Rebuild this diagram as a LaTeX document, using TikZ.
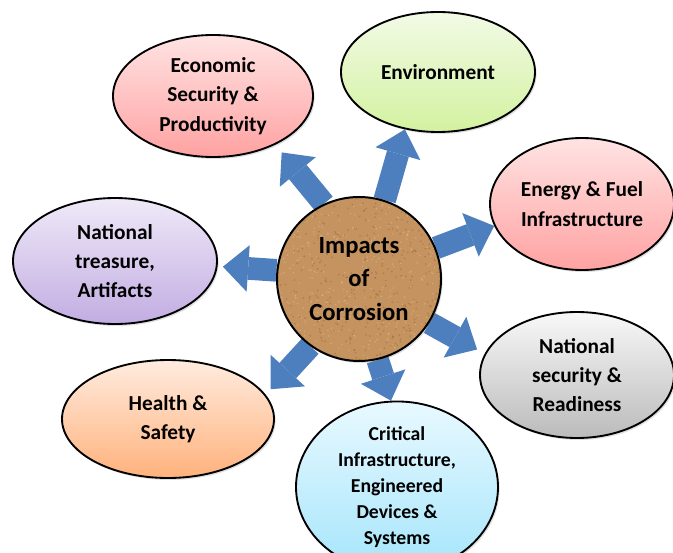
\documentclass[tikz,border=0pt]{standalone}
\usepackage{fontspec}
\setmainfont{Carlito}
\usepackage{xcolor}
\usepackage{tikz}
\usetikzlibrary{shapes.geometric,arrows.meta,calc,backgrounds,shadows}

\definecolor{arrowblue}{HTML}{4D7FBE}
\definecolor{cork}{HTML}{C4935F}
\definecolor{corkdark}{HTML}{84552B}
\definecolor{corklight}{HTML}{E6C497}
\definecolor{pinktop}{HTML}{FFE3E3}
\definecolor{pinkbot}{HTML}{FFA2A2}
\definecolor{greentop}{HTML}{F2FAE6}
\definecolor{greenbot}{HTML}{D3F2A0}
\definecolor{greytop}{HTML}{F8F8F8}
\definecolor{greybot}{HTML}{BBBBBB}
\definecolor{cyantop}{HTML}{E8F9FF}
\definecolor{cyanbot}{HTML}{A5E5FB}
\definecolor{peachtop}{HTML}{FFECDF}
\definecolor{peachbot}{HTML}{FFB17C}
\definecolor{lilactop}{HTML}{EFE9F8}
\definecolor{lilacbot}{HTML}{C2ADE2}

\begin{document}
\begin{tikzpicture}[
    x=0.75pt, y=-0.75pt,
    impact/.style={ellipse, draw=black, line width=1.4pt, inner sep=0pt, align=center, font=\bfseries\fontsize{16}{22}\selectfont, drop shadow={opacity=0.25, shadow xshift=1.2pt, shadow yshift=-1.5pt}},
    hub/.style={circle, draw=black, line width=1.5pt, fill=cork, minimum size=123pt, inner sep=0pt, align=center, font=\bfseries\fontsize{18.5}{25}\selectfont, drop shadow={opacity=0.25, shadow xshift=1.2pt, shadow yshift=-1.5pt},
        path picture={
            \foreach \k in {1,...,450} {
                \fill[corkdark, opacity=0.35] ($(path picture bounding box.center)+(85*rand, 85*rand)$) circle (0.7pt);
                \fill[corklight, opacity=0.5] ($(path picture bounding box.center)+(85*rand, 85*rand)$) circle (0.6pt);
            }
        }},
    flow/.style={-{Triangle[width=35pt, length=19pt, line width=0pt]}, line width=17pt, draw=arrowblue}
]
\pgfmathsetseed{11}
\useasboundingbox (0,0) rectangle (673,552);

\node[hub] (core) at (359,279) {Impacts\\of\\Corrosion};

\node[impact, minimum width=150pt, minimum height=91.5pt, top color=pinktop, bottom color=pinkbot] (econ) at (213,96) {Economic\\Security \&\\Productivity};
\node[impact, minimum width=145.5pt, minimum height=90pt, top color=greentop, bottom color=greenbot] (env) at (438,72) {Environment};
\node[impact, minimum width=138pt, minimum height=99pt, top color=pinktop, bottom color=pinkbot] (energy) at (582,204) {Energy \& Fuel\\Infrastructure};
\node[impact, minimum width=145.5pt, minimum height=94.5pt, top color=greytop, bottom color=greybot] (natsec) at (577,375) {National\\security \&\\Readiness};
\node[impact, minimum width=151.5pt, minimum height=97.5pt, top color=cyantop, bottom color=cyanbot, font=\bfseries\fontsize{14.8}{19.5}\selectfont] (critical) at (397,487) {Critical\\Infrastructure,\\Engineered\\Devices \&\\Systems};
\node[impact, minimum width=159pt, minimum height=88.5pt, top color=peachtop, bottom color=peachbot] (health) at (168,419) {Health \&\\Safety};
\node[impact, minimum width=153pt, minimum height=94.5pt, top color=lilactop, bottom color=lilacbot] (treasure) at (115,261) {National\\treasure,\\Artifacts};

% block arrows sit behind the hub
\begin{scope}[on background layer]
\draw[flow, shorten >=7.5pt] (core.115) -- (econ.-38);
\draw[flow] (core.72) -- (env.-120);
\draw[flow] (core.22) -- (energy.194);
\draw[flow, shorten >=6.5pt] (core.-32) -- (natsec.167);
\draw[flow] (core.-77) -- (critical.94);
\draw[flow, shorten >=5.5pt] (core.-126) -- (health.14);
\draw[flow, shorten >=4pt] (core.174) -- (treasure.-3);
\end{scope}
\end{tikzpicture}
\end{document}
